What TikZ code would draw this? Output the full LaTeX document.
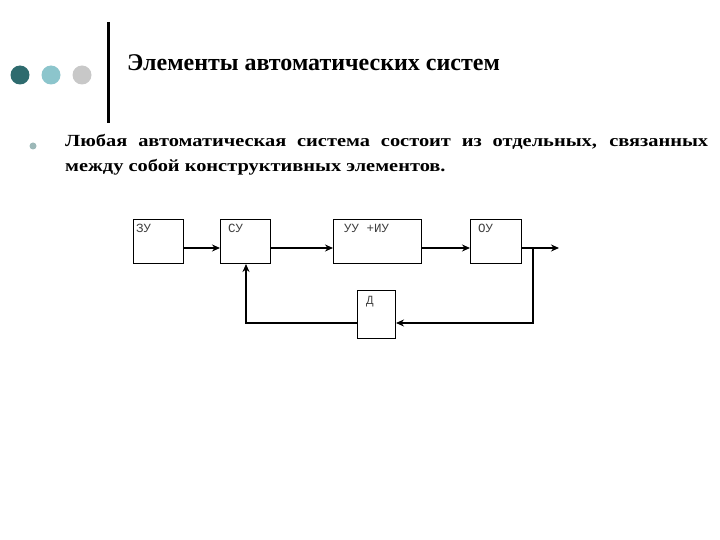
\documentclass[tikz,border=0pt]{standalone}
\usepackage{fontspec}
\setmainfont{Liberation Serif}
\newfontfamily\bodyfont[FakeStretch=1.2]{Liberation Serif}
\newfontfamily\lblfont{Liberation Mono}
\usetikzlibrary{arrows.meta}
\definecolor{dotA}{HTML}{2E6B6E}
\definecolor{dotB}{HTML}{8CC5CC}
\definecolor{dotC}{HTML}{C8C8C8}
\definecolor{bulletc}{HTML}{9CB8B8}
\begin{document}
\begin{tikzpicture}[x=1pt,y=-1pt,
  blk/.style={draw,line width=1pt,minimum width=50pt,minimum height=44pt,inner sep=0pt},
  lbl/.style={font=\lblfont\fontsize{12.5}{13}\selectfont,text=black!75,anchor=north west,inner sep=0pt},
  conn/.style={line width=2.4pt,-{Stealth[length=8pt,width=7pt]}},
  fb/.style={line width=1.7pt,-{Stealth[length=8pt,width=7pt]}}]
\useasboundingbox (0,0) rectangle (720,540);
% decoration
\fill[dotA] (20,75) circle (9.5);
\fill[dotB] (51,75) circle (9.5);
\fill[dotC] (82,75) circle (9.5);
\draw[line width=3pt] (108,22) -- (108,123);
\node[anchor=west,inner sep=0pt,font=\bfseries\fontsize{24}{28}\selectfont] (title) at (127,63) {Элементы автоматических систем};
% bullet
\fill[bulletc] (33,146) circle (3.5);
\node[anchor=north west,inner sep=0pt,text width=643pt,align=justify,font=\bodyfont\bfseries\fontsize{17}{25}\selectfont] (txt) at (65,134) {Любая автоматическая система состоит из отдельных, связанных между собой конструктивных элементов.};
% blocks
\node[blk,anchor=north west] (zu) at (133,219) {};
\node[blk,anchor=north west] (su) at (220,219) {};
\node[blk,anchor=north west,minimum width=88pt] (uu) at (333,219) {};
\node[blk,anchor=north west,minimum width=51pt] (ou) at (470,219) {};
\node[blk,anchor=north west,minimum width=38pt,minimum height=48pt] (d) at (357,290) {};
\node[lbl] at (136,224) {ЗУ};
\node[lbl] at (228,224) {СУ};
\node[lbl] at (344,224) {УУ +ИУ};
\node[lbl] at (478,224) {ОУ};
\node[lbl] at (366,296) {Д};
% connectors
\coordinate (out) at (559,248);
\coordinate (br) at (533,248);
\draw[conn] (zu.east |- 0,248) -- (su.west |- 0,248);
\draw[conn] (su.east |- 0,248) -- (uu.west |- 0,248);
\draw[conn] (uu.east |- 0,248) -- (ou.west |- 0,248);
\draw[conn] (ou.east |- 0,248) -- (out);
\draw[fb] (br) -- (br |- 0,323) -- (d.east |- 0,323);
\draw[fb] (d.west |- 0,323) -- (246,323) -- (su.south -| 246,0);
\end{tikzpicture}
\end{document}
